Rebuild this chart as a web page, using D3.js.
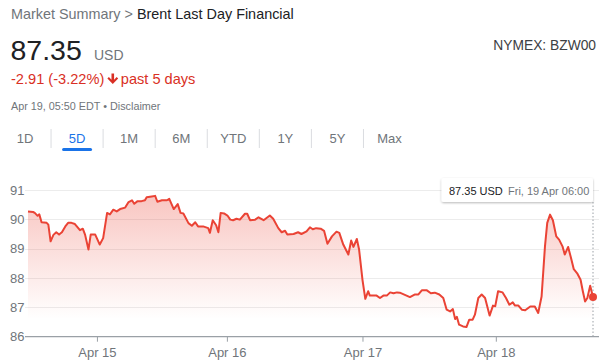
<!DOCTYPE html>
<html>
<head>
<meta charset="utf-8">
<script src="https://cdn.jsdelivr.net/npm/d3@7"></script>
<style>
  html, body { margin: 0; padding: 0; background: #fff; }
  svg { display: block; font-family: "Liberation Sans", Arial, sans-serif; }
</style>
</head>
<body>
<svg id="chart" width="607" height="363"></svg>
<script>
// ---- Data ----
// hours since start of the 5-day window (compressed trading time)
const times = [0,0.9,1.2,1.7,2.0,2.4,3.3,3.6,4.0,4.5,5.0,5.5,6.0,6.6,7.1,7.7,8.3,9.2,9.7,10.1,10.7,11.1,11.9,12.7,13.3,14.0,14.5,15.1,15.7,16.3,17.2,17.8,18.4,18.8,19.4,20.1,20.7,21.0,21.9,22.5,22.9,23.7,24.6,25.0,25.8,26.5,27.0,27.5,28.4,29.0,29.6,30.1,31.0,31.9,32.2,32.7,33.3,33.7,34.1,34.7,35.3,35.8,36.3,36.9,37.5,38.4,38.8,39.3,40.2,40.8,41.7,42.8,43.4,44.3,44.9,45.5,45.9,47.0,47.8,48.4,49.3,49.9,50.4,51.0,51.8,52.4,53.0,53.8,54.6,55.1,55.8,56.7,57.2,57.6,58.2,58.6,59.2,59.7,60.2,60.5,61.7,62.3,62.9,63.5,64.1,64.7,65.3,65.8,67.0,67.6,68.5,69.1,69.7,70.6,71.3,72.0,72.8,73.5,74.1,74.7,75.2,75.6,75.9,76.3,77.0,77.6,78.1,78.7,79.1,79.7,80.3,80.9,81.7,82.3,82.7,83.2,84.0,84.6,85.2,85.8,86.2,86.8,87.4,88.0,88.9,89.7,90.3,90.9,91.5,91.9,92.4,92.9,93.5,94.0,94.6,95.0,95.6,96.1,96.6,97.2,97.8,98.2,98.6,99.0,99.5,100];
const prices = [90.27,90.25,90.22,90.12,90.17,89.90,89.88,89.82,89.25,89.47,89.56,89.48,89.56,89.76,89.88,89.88,89.84,89.63,89.68,89.48,88.97,89.48,89.48,89.14,89.36,90.22,90.17,90.33,90.27,90.35,90.40,90.59,90.65,90.53,90.62,90.62,90.65,90.75,90.78,90.80,90.60,90.65,90.65,90.70,90.35,90.52,90.22,90.20,89.87,89.78,89.90,89.76,89.76,89.70,89.54,89.97,89.80,89.56,90.22,90.20,90.13,89.99,89.97,90.02,89.99,90.19,90.19,89.97,89.99,90.07,89.97,90.13,90.02,89.70,89.56,89.61,89.48,89.50,89.56,89.50,89.59,89.73,89.66,89.70,89.68,89.61,89.17,89.42,89.58,89.54,89.14,88.80,89.28,89.06,89.33,88.97,87.94,87.29,87.55,87.40,87.40,87.32,87.40,87.40,87.51,87.48,87.51,87.50,87.40,87.35,87.44,87.44,87.58,87.58,87.48,87.50,87.44,87.32,86.92,86.86,86.94,86.60,86.68,86.41,86.35,86.33,86.58,86.58,86.75,87.32,87.44,87.32,86.72,87.06,87.04,87.55,87.51,87.32,87.09,87.17,87.06,87.06,86.92,86.90,87.03,87.03,86.81,87.37,89.08,89.88,90.16,89.97,89.42,89.31,89.08,88.80,89.06,88.69,88.30,88.16,87.94,87.55,87.20,87.32,87.74,87.35];
const xTickTimes = [12.2, 35.2, 59.2, 82.8];
const xTickLabels = ["Apr 15", "Apr 16", "Apr 17", "Apr 18"];
const yTicks = [86, 87, 88, 89, 90, 91];
const tabs = ["1D", "5D", "1M", "6M", "YTD", "1Y", "5Y", "Max"];
const selectedTab = "5D";

const svg = d3.select("#chart");
const grey = "#70757a";
const red = "#ea4335";
const textRed = "#d93025";

// ---- Header ----
const h1 = svg.append("text").attr("x", 11).attr("y", 19).attr("font-size", 14.4);
h1.append("tspan").attr("fill", grey).text("Market Summary > ");
h1.append("tspan").attr("fill", "#202124").text("Brent Last Day Financial");

svg.append("text").attr("x", 10.5).attr("y", 59.5).attr("font-size", 28.5).attr("fill", "#202124").text("87.35");
svg.append("text").attr("x", 94).attr("y", 59.5).attr("font-size", 14).attr("fill", grey).text("USD");

const chg = svg.append("text").attr("x", 11).attr("y", 84).attr("font-size", 14.6).attr("fill", textRed)
  .text("-2.91 (-3.22%)");
const chgEnd = 11 + chg.node().getComputedTextLength();
// bold down arrow
const ax = chgEnd + 8.5;
svg.append("path")
  .attr("d", `M${ax - 1.3},73.5 h2.6 v6.2 l2.6,-2.6 l1.5,1.5 l-5.4,5.4 l-5.4,-5.4 l1.5,-1.5 l2.6,2.6 z`)
  .attr("fill", textRed);
svg.append("text").attr("x", ax + 8).attr("y", 84).attr("font-size", 14.6).attr("fill", textRed)
  .text("past 5 days");

svg.append("text").attr("x", 11).attr("y", 109.5).attr("font-size", 10.8).attr("fill", grey)
  .text("Apr 19, 05:50 EDT \u2022 Disclaimer");

svg.append("text").attr("x", 596).attr("y", 50).attr("font-size", 13.8).attr("fill", "#3c4043")
  .attr("text-anchor", "end").text("NYMEX: BZW00");

// ---- Tabs ----
const tabX = d3.scalePoint().domain(tabs).range([25, 389.5]);
tabs.forEach((t, i) => {
  svg.append("text").attr("x", tabX(t)).attr("y", 142.5).attr("font-size", 13)
    .attr("text-anchor", "middle").attr("fill", t === selectedTab ? "#1a73e8" : grey).text(t);
  if (i > 0) {
    const sx = (tabX(tabs[i - 1]) + tabX(t)) / 2;
    svg.append("line").attr("x1", sx).attr("x2", sx).attr("y1", 129).attr("y2", 148)
      .attr("stroke", "#dadce0").attr("stroke-width", 1);
  }
});
svg.append("line").attr("x1", tabX(selectedTab) - 13.5).attr("x2", tabX(selectedTab) + 13.5)
  .attr("y1", 149.5).attr("y2", 149.5).attr("stroke", "#1a73e8").attr("stroke-width", 3)
  .attr("stroke-linecap", "round");

// ---- Chart ----
const x = d3.scaleLinear().domain([0, 100]).range([28, 593]);
const y = d3.scaleLinear().domain([86, 91]).range([336.7, 190]);
const gridLeft = 25, gridRight = 599;

const defs = svg.append("defs");
const grad = defs.append("linearGradient").attr("id", "fillGrad")
  .attr("gradientUnits", "userSpaceOnUse").attr("x1", 0).attr("x2", 0)
  .attr("y1", y(91)).attr("y2", y(86.6));
grad.append("stop").attr("offset", 0).attr("stop-color", red).attr("stop-opacity", 0.32);
grad.append("stop").attr("offset", 1).attr("stop-color", red).attr("stop-opacity", 0);

// gridlines
svg.append("g").selectAll("line").data(yTicks.filter(d => d !== 86)).join("line")
  .attr("x1", gridLeft).attr("x2", gridRight)
  .attr("y1", d => Math.round(y(d)) + 0.5).attr("y2", d => Math.round(y(d)) + 0.5)
  .attr("stroke", "#ececec").attr("stroke-width", 1);

// y labels
svg.append("g").selectAll("text").data(yTicks).join("text")
  .attr("x", 24.5).attr("y", d => y(d)).attr("dy", "0.35em")
  .attr("text-anchor", "end").attr("font-size", 13).attr("fill", grey).text(d => d);

const pts = times.map((t, i) => [t, prices[i]]);

svg.append("path").datum(pts)
  .attr("d", d3.area().x(d => x(d[0])).y0(y(86)).y1(d => y(d[1])))
  .attr("fill", "url(#fillGrad)");

// x axis
const xAxis = d3.axisBottom(x).tickValues(xTickTimes)
  .tickFormat((d, i) => xTickLabels[i]).tickSize(5).tickSizeOuter(0);
const gx = svg.append("g").attr("transform", `translate(0,${y(86)})`).call(xAxis);
gx.select(".domain").remove();
gx.selectAll(".tick line").attr("stroke", "#9aa0a6");
gx.selectAll(".tick text").attr("fill", grey).attr("font-size", 13)
  .attr("font-family", "Liberation Sans, Arial, sans-serif").attr("dy", "0.95em");
svg.append("line").attr("x1", gridLeft).attr("x2", gridRight)
  .attr("y1", y(86)).attr("y2", y(86)).attr("stroke", "#9aa0a6").attr("stroke-width", 1.2);

// line
svg.append("path").datum(pts)
  .attr("d", d3.line().x(d => x(d[0])).y(d => y(d[1])))
  .attr("fill", "none").attr("stroke", red).attr("stroke-width", 2)
  .attr("stroke-linejoin", "round");

// tooltip
const last = pts[pts.length - 1];
const tipRight = x(last[0]), tipLeft = 441.5, tipTop = 178, tipBottom = 202;
svg.append("line").attr("x1", tipRight).attr("x2", tipRight).attr("y1", tipBottom).attr("y2", y(86))
  .attr("stroke", "#9aa0a6").attr("stroke-width", 1).attr("stroke-dasharray", "1.5,2");
defs.append("filter").attr("id", "shadow").attr("x", "-10%").attr("y", "-30%").attr("width", "120%").attr("height", "160%")
  .append("feDropShadow").attr("dx", 0).attr("dy", 1).attr("stdDeviation", 1.2)
  .attr("flood-color", "#000").attr("flood-opacity", 0.28);
svg.append("rect").attr("x", tipLeft).attr("y", tipTop).attr("width", tipRight - tipLeft).attr("height", tipBottom - tipTop)
  .attr("rx", 2).attr("fill", "#fff").attr("filter", "url(#shadow)");
svg.append("text").attr("x", 449).attr("y", 194.5).attr("font-size", 11).attr("fill", "#202124")
  .text(last[1].toFixed(2) + " USD");
svg.append("text").attr("x", 508).attr("y", 194.5).attr("font-size", 11).attr("fill", grey)
  .text("Fri, 19 Apr 06:00");

// end dot
svg.append("circle").attr("cx", x(last[0])).attr("cy", y(last[1])).attr("r", 4).attr("fill", red);
</script>
</body>
</html>
